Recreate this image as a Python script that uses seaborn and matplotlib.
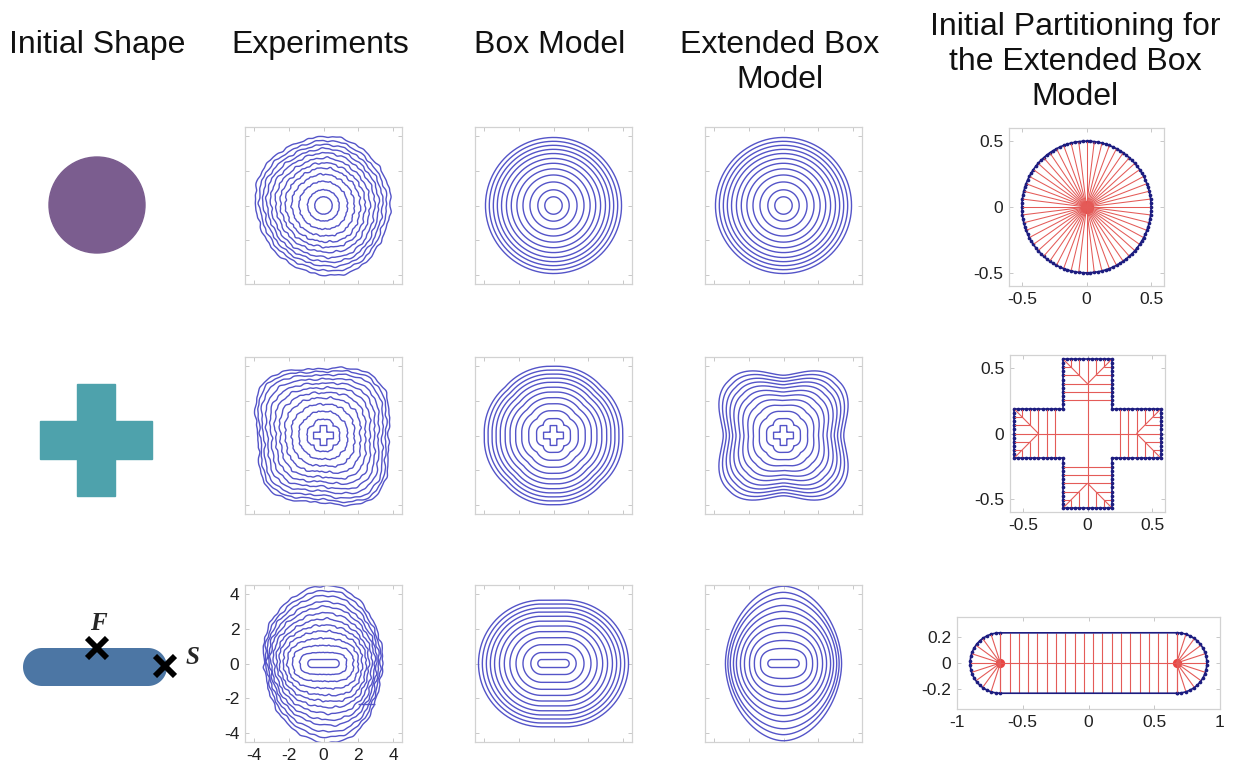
import numpy as np
import pandas as pd
import matplotlib
matplotlib.use("Agg")
import matplotlib.pyplot as plt
from matplotlib.patches import Circle, Polygon
import seaborn as sns

# ---------------------------------------------------------------- data
# initial shapes (model units)
CIRCLE_RADIUS = 0.5
CROSS_HALF_WIDTH = 0.19
CROSS_HALF_LENGTH = 0.57
ROD_HALF_SEGMENT = 0.67
ROD_RADIUS = 0.23

# box model: distance travelled by each recorded front
BOX_OFFSETS = [0.0, 0.4, 0.85, 1.25, 1.6, 1.92, 2.2, 2.48, 2.72, 2.95, 3.18, 3.4]

# extended box model, cross: offsets and four-fold lobe strength
EXT_CROSS_OFFSETS = [0.0, 0.4, 0.85, 1.25, 1.6, 1.92, 2.2, 2.48, 2.72, 2.95, 3.18, 3.4]
EXT_CROSS_LOBES = [0.0, 0.0, 0.03, 0.055, 0.075, 0.09, 0.1, 0.108, 0.115, 0.12, 0.125, 0.13]

# extended box model, rod: semi-axes of the fronts after the initial one
EXT_ROD_HALF_WIDTH = [1.32, 1.67, 1.95, 2.24, 2.47, 2.70, 2.87, 3.05, 3.19, 3.33]
EXT_ROD_HALF_HEIGHT = [0.86, 1.32, 1.78, 2.18, 2.59, 2.99, 3.33, 3.74, 4.08, 4.43]
EXT_ROD_POWER = [2.6, 2.35, 2.2, 2.1, 2.0, 1.95, 1.9, 1.9, 1.85, 1.85]

# experiments
EXP_CIRCLE_RADII = [0.5, 0.9, 1.38, 1.78, 2.13, 2.42, 2.7, 2.98, 3.22, 3.45, 3.68, 3.92]
EXP_CROSS_OFFSETS = [0.0, 0.35, 0.8, 1.2, 1.55, 1.85, 2.12, 2.38, 2.62, 2.85, 3.05, 3.22]
EXP_CROSS_SQUARENESS = [0.0, 0.1, 0.3, 0.5, 0.65, 0.75, 0.85, 0.9, 0.95, 1.0, 1.0, 1.0]
EXP_ROD_HALF_WIDTH = [1.32, 1.72, 2.01, 2.24, 2.47, 2.64, 2.82, 2.99, 3.10, 3.22, 3.33, 3.45]
EXP_ROD_HALF_HEIGHT = [0.63, 1.03, 1.44, 1.84, 2.18, 2.53, 2.87, 3.22, 3.51, 3.85, 4.14, 4.43]
EXP_ROD_POWER = [3.2, 2.8, 2.5, 2.3, 2.2, 2.1, 2.05, 2.0, 2.0, 2.0, 2.0, 2.0]
EXP_STRAY_X = [1.95, 2.95]
EXP_STRAY_Y = [-2.3, -2.3]

# roughness of the measured fronts
RIPPLE_ORDERS = [17, 26, 37, 53]
RIPPLE_AMPS = [0.03, 0.022, 0.015, 0.01]
RIPPLE_PHASES = [0.3, 1.7, 2.9, 0.8]
LOBE_ORDERS = [2, 3, 5]
LOBE_AMPS = [0.02, 0.018, 0.012]
LOBE_PHASES = [0.6, 2.2, 4.0]

# partitions
N_CIRCLE_SPOKES = 52
CROSS_SEGMENTS_PER_EDGE = 6
ROD_STRAIGHT_SEGMENTS = 19
ROD_CAP_SEGMENTS = 10

# left column pictograms (pixel units)
ICON_CIRCLE_R = 48
ICON_CROSS = (19, 56)          # half width, half length
ICON_ROD = (53, 19)            # half segment, radius
MARK_X = [2, 70]
MARK_Y = [19, 1]
MARK_TEXT = ["F", "S"]
MARK_TEXT_X = [3, 97]
MARK_TEXT_Y = [44, 10]

HEADERS = [
    ("Initial Shape", 97, [53]),
    ("Experiments", 320, [53]),
    ("Box Model", 550, [53]),
    ("Extended Box\nModel", 780, [53, 88]),
    ("Initial Partitioning for\nthe Extended Box\nModel", 1075, [35, 70, 105]),
]

# ---------------------------------------------------------------- style
W, H = 1240, 764
sns.set_theme(style="white")
plt.rcParams["font.family"] = ["Liberation Sans", "DejaVu Sans"]
plt.rcParams["axes.unicode_minus"] = False

FRONT_COLOR = "#5454c8"
RED = "#e45b58"
RED_DOT = "#e8302c"
NAVY = "#1c1c80"
FRAME = "#d2d2d2"

THETA = np.linspace(0, 2 * np.pi, 721)


def px_axes(fig, x, y, w, h):
    return fig.add_axes([x / W, 1 - (y + h) / H, w / W, h / H])


def cross_vertices(a, L):
    return np.array([(a, a), (L, a), (L, -a), (a, -a), (a, -L), (-a, -L),
                     (-a, -a), (-L, -a), (-L, a), (-a, a), (-a, L), (a, L)], float)


def edge_points(verts, per_edge):
    pts = []
    for p, q in zip(verts, np.roll(verts, -1, axis=0)):
        for k in range(per_edge):
            pts.append(p + (q - p) * k / per_edge)
    return np.array(pts)


_cross_dense = edge_points(cross_vertices(CROSS_HALF_WIDTH, CROSS_HALF_LENGTH), 90)
_front_cache = {}


def cross_front(d):
    """Polar radius of the cross grown by distance d."""
    if d in _front_cache:
        return _front_cache[d]
    c, s = np.cos(THETA), np.sin(THETA)
    if d == 0:
        a, L = CROSS_HALF_WIDTH, CROSS_HALF_LENGTH
        with np.errstate(divide="ignore"):
            r1 = np.minimum(L / np.abs(c), a / np.abs(s))
            r2 = np.minimum(a / np.abs(c), L / np.abs(s))
        r = np.maximum(r1, r2)
    else:
        P = _cross_dense
        pu = P @ np.vstack([c, s])
        disc = d * d - (P ** 2).sum(1)[:, None] + pu ** 2
        t = np.where(disc >= 0, pu + np.sqrt(np.clip(disc, 0, None)), -np.inf)
        r = t.max(0)
    _front_cache[d] = r
    return r


def stadium_xy(c, R, n=200):
    t1 = np.linspace(-np.pi / 2, np.pi / 2, n)
    t2 = np.linspace(np.pi / 2, 3 * np.pi / 2, n)
    right = np.c_[c + R * np.cos(t1), R * np.sin(t1)]
    left = np.c_[-c + R * np.cos(t2), R * np.sin(t2)]
    pts = np.vstack([right, left, right[:1]])
    return pts[:, 0], pts[:, 1]


def superellipse_xy(a, b, n):
    c, s = np.cos(THETA), np.sin(THETA)
    return (a * np.sign(c) * np.abs(c) ** (2 / n),
            b * np.sign(s) * np.abs(s) ** (2 / n))


def ripple(phi, ring):
    out = np.zeros_like(phi)
    for m, amp, p in zip(RIPPLE_ORDERS, RIPPLE_AMPS, RIPPLE_PHASES):
        out += amp * np.sin(m * phi + p + 1.37 * ring * (m % 7 + 1))
    return out


def lobes(phi, ring):
    out = np.zeros_like(phi)
    for m, amp, p in zip(LOBE_ORDERS, LOBE_AMPS, LOBE_PHASES):
        out += amp * np.cos(m * phi + p + 0.15 * ring)
    return out


def roughen(x, y, ring):
    r = np.hypot(x, y)
    phi = np.arctan2(y, x)
    weight = np.clip((r - 0.3) / 1.8, 0.15, 1.0)
    r2 = r * (1 + lobes(phi, ring) * weight) + ripple(phi, ring) * weight
    return r2 * np.cos(phi), r2 * np.sin(phi)


def polar(r):
    return r * np.cos(THETA), r * np.sin(THETA)


def draw_fronts(ax, rings, color=FRONT_COLOR, lw=1.0):
    # one hue level per front keeps every curve a separate line
    df = pd.concat([pd.DataFrame({"x": x, "y": y, "ring": i})
                    for i, (x, y) in enumerate(rings)], ignore_index=True)
    sns.lineplot(data=df, x="x", y="y", hue="ring", palette=[color] * len(rings),
                 estimator=None, sort=False, linewidth=lw,
                 solid_capstyle="butt", solid_joinstyle="round",
                 ax=ax, legend=False)


def draw_segments(ax, segs, color, lw):
    rings = [(np.array([p[0], q[0]]), np.array([p[1], q[1]])) for p, q in segs]
    draw_fronts(ax, rings, color=color, lw=lw)


def frame(ax, lim, ticks, labels=None, ylim=None, yticks=None, ylabels=None):
    ylim = lim if ylim is None else ylim
    yticks = ticks if yticks is None else yticks
    ax.set_xlim(*lim)
    ax.set_ylim(*ylim)
    ax.set_xticks(ticks)
    ax.set_yticks(yticks)
    if labels is None:
        ax.set_xticklabels([])
        ax.set_yticklabels([])
    else:
        ax.set_xticklabels(labels)
        ax.set_yticklabels(ylabels if ylabels is not None else labels)
    ax.set_xlabel("")
    ax.set_ylabel("")
    ax.tick_params(direction="in", length=3, width=0.7, color="#c8c8c8",
                   labelsize=12.5, labelcolor="#202020", pad=4,
                   top=True, right=True, bottom=True, left=True)
    for sp in ax.spines.values():
        sp.set_color(FRAME)
        sp.set_linewidth(0.9)


fig = plt.figure(figsize=(W / 100, H / 100), dpi=100)
fig.patch.set_facecolor("white")

# ---------------------------------------------------------------- headers
for text, cx, baselines in HEADERS:
    for line, yb in zip(text.split("\n"), baselines):
        fig.text(cx / W, 1 - yb / H, line, ha="center", va="baseline",
                 fontsize=23, color="#111111")

# ---------------------------------------------------------------- pictograms
ax = px_axes(fig, 2, 125, 190, 160)
ax.set_xlim(-95, 95); ax.set_ylim(-80, 80); ax.axis("off")
ax.add_patch(Circle((0, 0), ICON_CIRCLE_R, color="#7b5d8f"))

ax = px_axes(fig, 1, 360, 190, 160)
ax.set_xlim(-95, 95); ax.set_ylim(-80, 80); ax.axis("off")
ax.add_patch(Polygon(cross_vertices(*ICON_CROSS), closed=True, color="#4ea2ac"))

ax = px_axes(fig, 0, 587, 190, 160)
ax.set_xlim(-95, 95); ax.set_ylim(-80, 80); ax.axis("off")
rx, ry = stadium_xy(*ICON_ROD)
ax.fill(rx, ry, color="#4c76a4", lw=0)
ax.plot(MARK_X, MARK_Y, ls="none", marker="x", ms=15, mew=4.2, color="black")
for t, tx, ty in zip(MARK_TEXT, MARK_TEXT_X, MARK_TEXT_Y):
    ax.text(tx, ty, t, ha="center", va="center", fontsize=18, fontweight="bold",
            fontstyle="italic", family=["Liberation Serif", "DejaVu Serif"])

# ---------------------------------------------------------------- fronts
COL_X = {"exp": 245, "box": 475, "ext": 705}
ROW_Y = [127, 357, 585]
SIDE = 157
LIM = (-4.5, 4.5)
TICKS = [-4, -2, 0, 2, 4]

# row 1: circle
rings = [roughen(*polar(np.full_like(THETA, r)), i) for i, r in enumerate(EXP_CIRCLE_RADII)]
ax = px_axes(fig, COL_X["exp"], ROW_Y[0], SIDE, SIDE)
draw_fronts(ax, rings); frame(ax, LIM, TICKS)

rings = [polar(np.full_like(THETA, CIRCLE_RADIUS + d)) for d in BOX_OFFSETS]
ax = px_axes(fig, COL_X["box"], ROW_Y[0], SIDE, SIDE)
draw_fronts(ax, rings); frame(ax, LIM, TICKS)
ax = px_axes(fig, COL_X["ext"], ROW_Y[0], SIDE, SIDE)
draw_fronts(ax, rings); frame(ax, LIM, TICKS)

# row 2: cross
c4, s4 = np.abs(np.cos(THETA)), np.abs(np.sin(THETA))
squircle = 1.0 / (c4 ** 4 + s4 ** 4) ** 0.25
rings = []
for i, (d, q) in enumerate(zip(EXP_CROSS_OFFSETS, EXP_CROSS_SQUARENESS)):
    r = cross_front(d) * (1 + q * (squircle - 1))
    x, y = polar(r)
    rings.append(roughen(x, y, i) if d > 0 else (x, y))
ax = px_axes(fig, COL_X["exp"], ROW_Y[1], SIDE, SIDE)
draw_fronts(ax, rings); frame(ax, LIM, TICKS)

rings = [polar(cross_front(d)) for d in BOX_OFFSETS]
ax = px_axes(fig, COL_X["box"], ROW_Y[1], SIDE, SIDE)
draw_fronts(ax, rings); frame(ax, LIM, TICKS)

rings = [polar(cross_front(d) * (1 - k * np.cos(4 * THETA)))
         for d, k in zip(EXT_CROSS_OFFSETS, EXT_CROSS_LOBES)]
ax = px_axes(fig, COL_X["ext"], ROW_Y[1], SIDE, SIDE)
draw_fronts(ax, rings); frame(ax, LIM, TICKS)

# row 3: rod
rings = [stadium_xy(ROD_HALF_SEGMENT, ROD_RADIUS)]
for i, (a, b, n) in enumerate(zip(EXP_ROD_HALF_WIDTH, EXP_ROD_HALF_HEIGHT, EXP_ROD_POWER)):
    rings.append(roughen(*superellipse_xy(a, b, n), i + 1))
rings.append((np.array(EXP_STRAY_X), np.array(EXP_STRAY_Y)))
ax = px_axes(fig, COL_X["exp"], ROW_Y[2], SIDE, SIDE)
draw_fronts(ax, rings)
frame(ax, LIM, TICKS, labels=[str(t) for t in TICKS])

rings = [stadium_xy(ROD_HALF_SEGMENT, ROD_RADIUS + d) for d in BOX_OFFSETS]
ax = px_axes(fig, COL_X["box"], ROW_Y[2], SIDE, SIDE)
draw_fronts(ax, rings); frame(ax, LIM, TICKS)

rings = [stadium_xy(ROD_HALF_SEGMENT, ROD_RADIUS)]
for a, b, n in zip(EXT_ROD_HALF_WIDTH, EXT_ROD_HALF_HEIGHT, EXT_ROD_POWER):
    rings.append(superellipse_xy(a, b, n))
ax = px_axes(fig, COL_X["ext"], ROW_Y[2], SIDE, SIDE)
draw_fronts(ax, rings); frame(ax, LIM, TICKS)

# ---------------------------------------------------------------- partitions
PT = [-0.5, 0, 0.5]
PT_LABELS = ["-0.5", "0", "0.5"]


def boundary(ax, x, y, dots_x, dots_y):
    draw_fronts(ax, [(x, y)], color=NAVY, lw=1.2)
    sns.scatterplot(x=dots_x, y=dots_y, s=7, color=NAVY, linewidth=0, ax=ax, legend=False)


# circle
ax = px_axes(fig, 1009, 128, 155, 158)
ang = 2 * np.pi * np.arange(N_CIRCLE_SPOKES) / N_CIRCLE_SPOKES
spokes = [((0, 0), (CIRCLE_RADIUS * np.cos(t), CIRCLE_RADIUS * np.sin(t))) for t in ang]
draw_segments(ax, spokes, RED, 0.75)
sns.scatterplot(x=[0], y=[0], s=90, color=RED_DOT, linewidth=0, alpha=0.9, ax=ax, legend=False)
dots = 2 * np.pi * np.arange(2 * N_CIRCLE_SPOKES) / (2 * N_CIRCLE_SPOKES)
bx, by = polar(np.full_like(THETA, CIRCLE_RADIUS))
boundary(ax, bx, by, CIRCLE_RADIUS * np.cos(dots), CIRCLE_RADIUS * np.sin(dots))
frame(ax, (-0.6, 0.6), PT, PT_LABELS)

# cross
a, L = CROSS_HALF_WIDTH, CROSS_HALF_LENGTH
verts = cross_vertices(a, L)
pts = edge_points(verts, CROSS_SEGMENTS_PER_EDGE)
eps = 1e-6


def rot(v, k):
    c, s = np.cos(k * np.pi / 2), np.sin(k * np.pi / 2)
    return np.array([c * v[0] - s * v[1], s * v[0] + c * v[1]])


segs = []
for p in pts:
    for k in range(4):
        q = rot(p, -k)
        if q[1] >= a - eps and abs(q[0]) <= a + eps:
            break
    if q[1] < a + eps:
        continue
    if abs(abs(q[0]) - a) < eps and abs(q[1] - L) < eps:
        continue
    if abs(q[1] - L) < eps:
        f = np.array([q[0], L - a + abs(q[0])])
    elif q[1] <= L - a + eps:
        f = np.array([0.0, q[1]])
    else:
        f = np.array([np.sign(q[0]) * (a - (L - q[1])), q[1]])
    segs.append((p, rot(f, k)))
for k in range(4):
    hub = np.array([0.0, L - a])
    segs.append((rot(np.zeros(2), k), rot(hub, k)))
    segs.append((rot(hub, k), rot(np.array([a, L]), k)))
    segs.append((rot(hub, k), rot(np.array([-a, L]), k)))
ax = px_axes(fig, 1010, 355, 155, 157)
draw_segments(ax, segs, RED, 0.8)
closed = np.vstack([verts, verts[:1]])
dense = edge_points(verts, 2 * CROSS_SEGMENTS_PER_EDGE)
boundary(ax, closed[:, 0], closed[:, 1], dense[:, 0], dense[:, 1])
frame(ax, (-0.6, 0.6), PT, PT_LABELS)

# rod
c, R = ROD_HALF_SEGMENT, ROD_RADIUS
segs = []
for x in np.linspace(-c, c, ROD_STRAIGHT_SEGMENTS + 1):
    segs.append(((x, R), (x, 0)))
    segs.append(((x, -R), (x, 0)))
for t in np.linspace(-np.pi / 2, np.pi / 2, ROD_CAP_SEGMENTS + 1):
    segs.append(((c, 0), (c + R * np.cos(t), R * np.sin(t))))
    segs.append(((-c, 0), (-c - R * np.cos(t), R * np.sin(t))))
segs.append(((-c, 0), (c, 0)))
ax = px_axes(fig, 957, 617, 263, 92)
draw_segments(ax, segs, RED, 0.8)
sns.scatterplot(x=[-c, c], y=[0, 0], s=45, color=RED_DOT, linewidth=0, alpha=0.9, ax=ax, legend=False)
bx, by = stadium_xy(c, R)
dx, dy = stadium_xy(c, R, n=22)
boundary(ax, bx, by, dx, dy)
frame(ax, (-1, 1), [-1, -0.5, 0, 0.5, 1], ["-1", "-0.5", "0", "0.5", "1"],
      ylim=(-0.35, 0.35), yticks=[-0.2, 0, 0.2], ylabels=["-0.2", "0", "0.2"])

fig.savefig("out.png", dpi=100, facecolor="white")
